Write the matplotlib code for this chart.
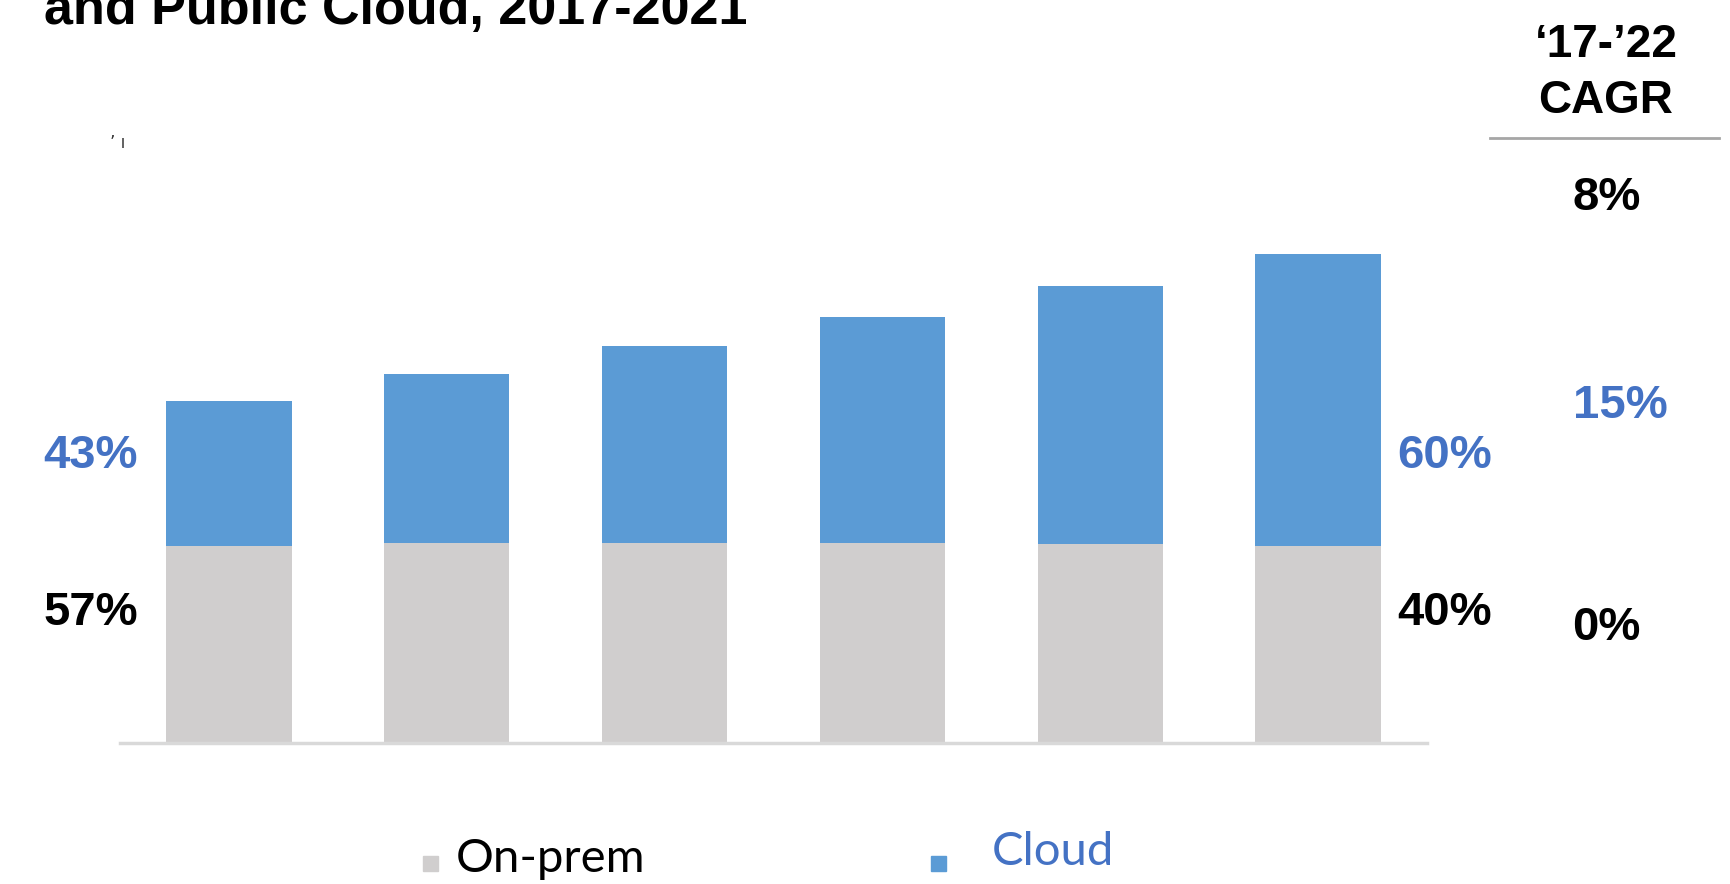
import matplotlib
matplotlib.use("Agg")
import matplotlib.pyplot as plt
from matplotlib.patches import Rectangle

# Datos (unidades relativas)
anios = ["2017", "2018", "2019", "2020", "2021", "2022"]
on_prem = [197, 200, 200, 200, 199, 197]
cloud = [145, 169, 197, 226, 258, 292]

# Etiquetas de participación y CAGR
share_izq = ["43%", "57%"]
share_der = ["60%", "40%"]
cagr = ["8%", "15%", "0%"]

COLOR_CLOUD = "#5B9BD5"
COLOR_ONPREM = "#D0CECE"
AZUL_TEXTO = "#4472C4"

W, H = 1731, 884
fig = plt.figure(figsize=(W / 100, H / 100), dpi=100)


def fx(px):
    return px / W


def fy(py):
    return 1 - py / H


# Ejes: base en y=743 px, de x=120 a x=1427 px
ax = fig.add_axes([fx(120), fy(743), fx(1427) - fx(120), 520 / H])
x = list(range(len(anios)))
ax.bar(x, on_prem, width=0.575, color=COLOR_ONPREM)
ax.bar(x, cloud, width=0.575, bottom=on_prem, color=COLOR_CLOUD)
ax.set_xlim(-0.5, 5.5)
ax.set_ylim(0, 520)
for s in ["top", "right", "left"]:
    ax.spines[s].set_visible(False)
ax.spines["bottom"].set_color("#D9D9D9")
ax.spines["bottom"].set_linewidth(2.5)
ax.set_xticks([])
ax.set_yticks([])

bold = dict(family="Liberation Sans", fontweight="bold", ha="center", va="center")

# Título (cortado en la parte superior)
fig.text(fx(44), fy(24), "and Public Cloud, 2017-2021", family="Liberation Sans",
         fontweight="bold", fontsize=37.5, ha="left", va="baseline")

# Encabezado CAGR
fig.text(fx(1606), fy(45), "\u201817-\u201922", fontsize=33, **bold)
fig.text(fx(1606), fy(101), "CAGR", fontsize=33, **bold)
fig.add_artist(plt.Line2D([fx(1490), fx(1719)], [fy(138), fy(138)],
                          color="#A6A6A6", linewidth=2))

fig.text(fx(1607), fy(198), cagr[0], fontsize=34, color="black", **bold)
fig.text(fx(1620), fy(406), cagr[1], fontsize=34, color=AZUL_TEXTO, **bold)
fig.text(fx(1606), fy(628), cagr[2], fontsize=34, color="black", **bold)

# Participaciones
fig.text(fx(91), fy(456), share_izq[0], fontsize=34, color=AZUL_TEXTO, **bold)
fig.text(fx(91), fy(613), share_izq[1], fontsize=34, color="black", **bold)
fig.text(fx(1445), fy(456), share_der[0], fontsize=34, color=AZUL_TEXTO, **bold)
fig.text(fx(1445), fy(613), share_der[1], fontsize=34, color="black", **bold)

# marcas pequeñas arriba a la izquierda
fig.text(fx(118), fy(143), "\u2019 \u0131", fontsize=12, family="DejaVu Sans",
         ha="center", va="center", color="#333333")

# Leyenda manual
fig.add_artist(Rectangle((fx(423), fy(871)), 15 / W, 15 / H, color=COLOR_ONPREM,
                         transform=fig.transFigure))
fig.text(fx(456), fy(859), "On-prem", family="Lato", fontsize=34, color="black",
         ha="left", va="center")
fig.add_artist(Rectangle((fx(931), fy(871)), 15 / W, 15 / H, color=COLOR_CLOUD,
                         transform=fig.transFigure))
fig.text(fx(992), fy(852), "Cloud", family="Lato", fontsize=34, color=AZUL_TEXTO,
         ha="left", va="center")

fig.savefig("out.png", dpi=100)
